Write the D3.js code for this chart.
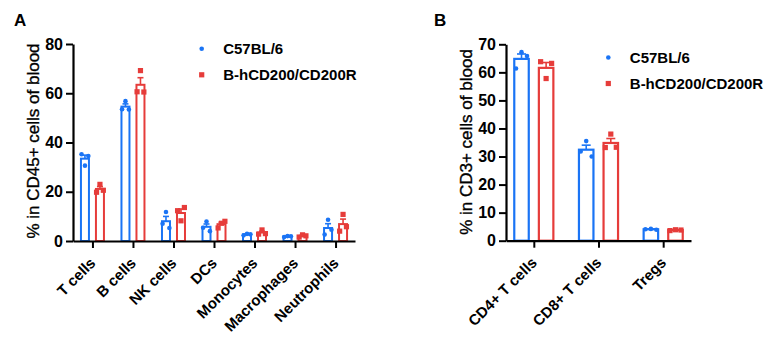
<!DOCTYPE html>
<html><head><meta charset="utf-8">
<script src="https://cdn.jsdelivr.net/npm/d3@7"></script>
<style>
body{margin:0;background:#fff;}
svg{display:block;font-family:"Liberation Sans",Arial,sans-serif;}
</style></head>
<body>
<svg id="c" width="772" height="347"></svg>
<script>
// ---------- DATA ----------
const seriesNames = ["C57BL/6", "B-hCD200/CD200R"];

// Panel A: % in CD45+ cells of blood (3 mice each; order = left, centre, right dot)
const catsA = ["T cells", "B cells", "NK cells", "DCs", "Monocytes", "Macrophages", "Neutrophils"];
const wtA = [
  [35.2, 30.6, 34.5],
  [53.5, 56.8, 53.4],
  [7.0, 11.8, 5.3],
  [5.4, 7.9, 4.0],
  [2.3, 2.9, 2.7],
  [1.6, 2.0, 1.9],
  [2.6, 8.6, 4.6]
];
const hA = [
  [19.8, 23.0, 20.6],
  [60.6, 69.2, 60.5],
  [12.3, 8.2, 13.6],
  [5.3, 7.2, 8.0],
  [2.8, 4.5, 3.0],
  [1.6, 2.5, 2.1],
  [4.0, 10.8, 5.8]
];
const ticksA = [0, 20, 40, 60, 80];

// Panel B: % in CD3+ cells of blood
const catsB = ["CD4+ T cells", "CD8+ T cells", "Tregs"];
const wtB = [
  [61.4, 67.2, 65.8],
  [31.8, 35.5, 30.0],
  [4.1, 4.2, 3.9]
];
const hB = [
  [63.8, 57.8, 63.2],
  [33.2, 38.0, 33.3],
  [3.6, 3.9, 3.8]
];
const ticksB = [0, 10, 20, 30, 40, 50, 60, 70];

// ---------- STYLE ----------
const BLUE = "#1a74f5", RED = "#e63c3a";
const svg = d3.select("#c");

function panel(o) {
  const g = svg.append("g");
  const x = d3.scalePoint().domain(o.cats).range([o.x0, o.x1]).padding(o.pad);
  const y = d3.scaleLinear().domain(o.ydom).range([o.y0, o.y1]);

  const groups = [{vals: o.wt, color: BLUE, off: -o.off, shape: "circle"},
                  {vals: o.h, color: RED, off: o.off, shape: "square"}];
  groups.forEach(s => {
    o.cats.forEach((c, i) => {
      const v = s.vals[i];
      const m = d3.mean(v);
      const sem = d3.deviation(v) / Math.sqrt(v.length);
      const cx = x(c) + s.off;
      g.append("rect")
        .attr("x", cx - o.bw / 2).attr("y", y(m))
        .attr("width", o.bw).attr("height", y(0) - y(m))
        .attr("fill", "#fff").attr("stroke", s.color).attr("stroke-width", o.sw);
      g.append("line").attr("x1", cx).attr("x2", cx)
        .attr("y1", y(m)).attr("y2", y(m + sem))
        .attr("stroke", s.color).attr("stroke-width", 1.6);
      g.append("line").attr("x1", cx - o.cap / 2).attr("x2", cx + o.cap / 2)
        .attr("y1", y(m + sem)).attr("y2", y(m + sem))
        .attr("stroke", s.color).attr("stroke-width", 1.6);
      v.forEach((d, j) => {
        const dx = cx + (j - 1) * o.jit;
        if (s.shape === "circle") {
          g.append("circle").attr("cx", dx).attr("cy", y(d)).attr("r", 2.3).attr("fill", s.color);
        } else {
          g.append("rect").attr("x", dx - 2.6).attr("y", y(d) - 2.6)
            .attr("width", 5.2).attr("height", 5.2).attr("fill", s.color);
        }
      });
    });
  });

  const ya = g.append("g").attr("transform", `translate(${o.x0},0)`)
    .call(d3.axisLeft(y).tickValues(o.ticks).tickSize(7).tickPadding(3).tickSizeOuter(0));
  const xa = g.append("g").attr("transform", `translate(0,${o.y0})`)
    .call(d3.axisBottom(x).tickSize(7).tickSizeOuter(0));
  [ya, xa].forEach(a => {
    a.select(".domain").attr("stroke", "#000").attr("stroke-width", 2.2);
    a.selectAll(".tick line").attr("stroke", "#000").attr("stroke-width", 2);
  });
  ya.selectAll(".tick text").attr("font-size", 16).attr("font-weight", "bold")
    .attr("fill", "#000").attr("font-family", "Liberation Sans, Arial, sans-serif");
  xa.selectAll(".tick text").remove();
  o.cats.forEach(c => {
    g.append("text")
      .attr("transform", `translate(${x(c) + 4},${o.y0 + 23}) rotate(-45)`)
      .attr("text-anchor", "end").attr("font-size", 15).attr("font-weight", "bold")
      .text(c);
  });

  g.append("text")
    .attr("transform", `translate(${o.tx},${o.ty}) rotate(-90)`)
    .attr("text-anchor", "middle").attr("font-size", 17)
    .attr("stroke", "#000").attr("stroke-width", 0.35).text(o.title);

  g.append("text").attr("x", o.lx).attr("y", 26).attr("font-size", 17)
    .attr("font-weight", "bold").text(o.letter);

  seriesNames.forEach((n, i) => {
    const ly = o.legY + i * 26;
    if (i === 0) {
      g.append("circle").attr("cx", o.legX).attr("cy", ly).attr("r", 2.3).attr("fill", BLUE);
    } else {
      g.append("rect").attr("x", o.legX - 2.6).attr("y", ly - 2.6)
        .attr("width", 5.2).attr("height", 5.2).attr("fill", RED);
    }
    g.append("text").attr("x", o.legX + 21.5).attr("y", ly + 5.5)
      .attr("font-size", 15).attr("font-weight", "bold").text(n);
  });
}

panel({cats: catsA, wt: wtA, h: hA, ticks: ticksA, ydom: [0, 80],
  x0: 73, x1: 355, pad: 0.48, y0: 241, y1: 44,
  off: 7.5, bw: 8, sw: 2, cap: 6, jit: 3.4,
  title: "% in CD45+ cells of blood", tx: 38.5, ty: 141,
  letter: "A", lx: 14, legX: 201.7, legY: 48.8});

panel({cats: catsB, wt: wtB, h: hB, ticks: ticksB, ydom: [0, 70],
  x0: 506, x1: 691, pad: 0.43, y0: 240.7, y1: 44.3,
  off: 12.3, bw: 14.5, sw: 2.2, cap: 9, jit: 5.5,
  title: "% in CD3+ cells of blood", tx: 471.5, ty: 142,
  letter: "B", lx: 434, legX: 608.3, legY: 57.5});
</script>
</body></html>
